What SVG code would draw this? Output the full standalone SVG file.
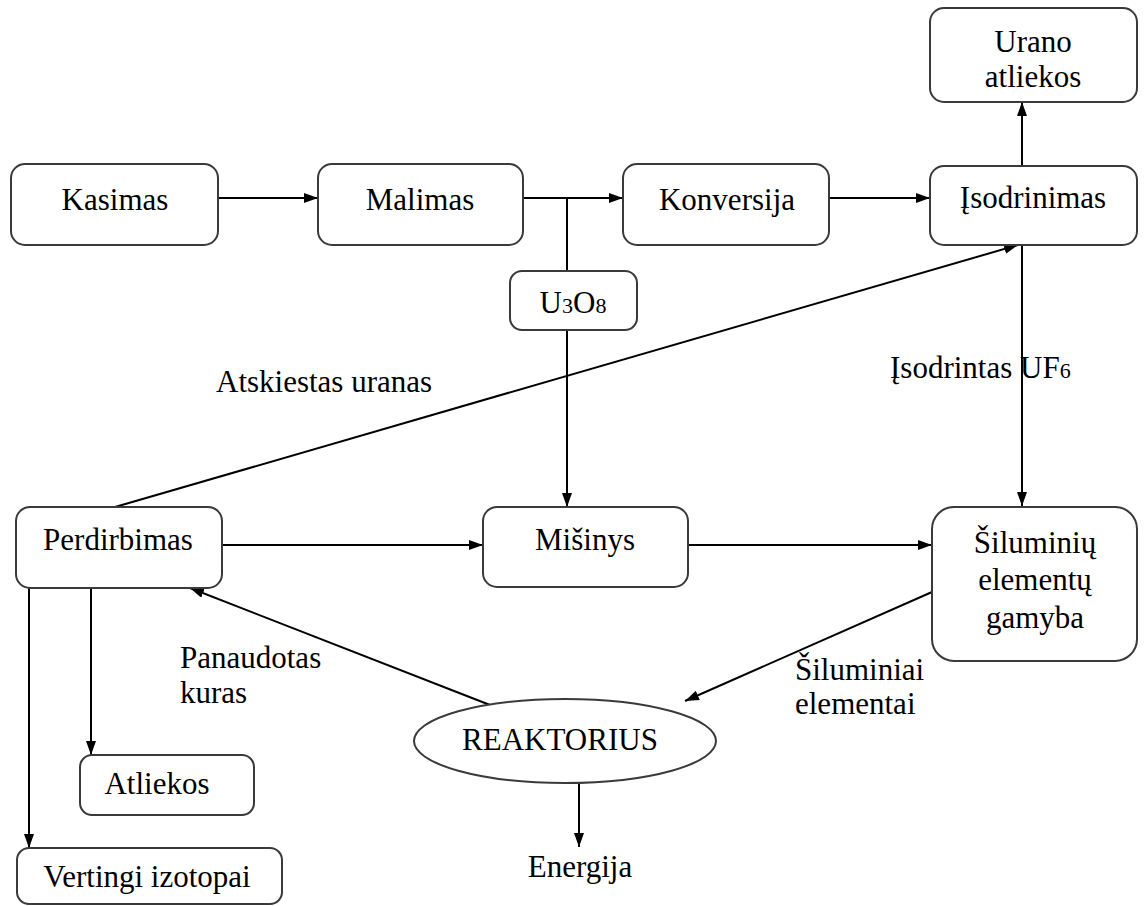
<svg xmlns="http://www.w3.org/2000/svg" width="1144" height="906" viewBox="0 0 1144 906">
<defs>
<marker id="ah" viewBox="0 0 14 10" refX="14" refY="5" markerWidth="14" markerHeight="10" markerUnits="userSpaceOnUse" orient="auto">
<path d="M0,0 L14,5 L0,10 Z" fill="#000"/>
</marker>
</defs>
<style>
.box{fill:#fff;stroke:#3a3a3a;stroke-width:2}
.t{font-family:"Liberation Serif","Times New Roman",serif;font-size:31px;fill:#000;text-anchor:middle}
.l{font-family:"Liberation Serif","Times New Roman",serif;font-size:31px;fill:#000}
.c{fill:none;stroke:#000;stroke-width:2}
.a{fill:none;stroke:#000;stroke-width:2;marker-end:url(#ah)}
</style>
<rect width="1144" height="906" fill="#fff"/>
<g id="connectors">
<line class="a" x1="218" y1="198" x2="318" y2="198"/>
<line class="a" x1="523" y1="198" x2="623" y2="198"/>
<line class="c" x1="567" y1="198" x2="567" y2="271"/>
<line class="a" x1="567" y1="330" x2="567" y2="507"/>
<line class="a" x1="829" y1="198" x2="930" y2="198"/>
<line class="a" x1="1022" y1="166" x2="1022" y2="102"/>
<line class="a" x1="1022" y1="245" x2="1022" y2="506"/>
<line class="a" x1="115" y1="507" x2="1018" y2="245"/>
<line class="a" x1="222" y1="545" x2="483" y2="545"/>
<line class="a" x1="688" y1="545" x2="932" y2="545"/>
<line class="a" x1="932" y1="592" x2="685" y2="701"/>
<line class="a" x1="490" y1="705" x2="190" y2="588"/>
<line class="a" x1="579" y1="784" x2="579" y2="847"/>
<line class="a" x1="91" y1="588" x2="91" y2="755"/>
<line class="a" x1="29" y1="588" x2="29" y2="848"/>
</g>
<g id="kasimas"><rect class="box" x="11" y="164" width="207" height="81" rx="14"/><text class="t" x="115" y="210">Kasimas</text></g>
<g id="malimas"><rect class="box" x="318" y="164" width="205" height="81" rx="14"/><text class="t" x="420" y="210">Malimas</text></g>
<g id="konversija"><rect class="box" x="623" y="164" width="206" height="81" rx="14"/><text class="t" x="727" y="210">Konversija</text></g>
<g id="isodrinimas"><rect class="box" x="930" y="166" width="207" height="79" rx="14"/><text class="t" x="1033" y="208">Įsodrinimas</text></g>
<g id="urano-atliekos"><rect class="box" x="930" y="8" width="207" height="94" rx="14"/><text class="t" x="1033" y="52">Urano</text><text class="t" x="1033" y="87">atliekos</text></g>
<g id="u3o8"><rect class="box" x="510" y="271" width="127" height="59" rx="12"/><text class="t" x="573" y="313">U<tspan font-size="22">3</tspan>O<tspan font-size="22">8</tspan></text></g>
<g id="perdirbimas"><rect class="box" x="16" y="507" width="206" height="81" rx="14"/><text class="t" x="118" y="550">Perdirbimas</text></g>
<g id="misinys"><rect class="box" x="483" y="507" width="205" height="80" rx="14"/><text class="t" x="585" y="550">Mišinys</text></g>
<g id="siluminiu"><rect class="box" x="932" y="507" width="205" height="154" rx="22"/><text class="t" x="1035" y="553">Šiluminių</text><text class="t" x="1035" y="590">elementų</text><text class="t" x="1035" y="628">gamyba</text></g>
<g id="reaktorius"><ellipse class="box" cx="565" cy="741" rx="151" ry="42"/><text class="t" x="560" y="750">REAKTORIUS</text></g>
<g id="atliekos"><rect class="box" x="80" y="755" width="174" height="60" rx="12"/><text class="t" x="157" y="794">Atliekos</text></g>
<g id="vertingi"><rect class="box" x="17" y="848" width="265" height="56" rx="12"/><text class="t" x="147" y="887">Vertingi izotopai</text></g>
<g id="energija"><text class="t" x="580" y="877">Energija</text></g>
<g id="labels">
<text class="l" x="216" y="392">Atskiestas uranas</text>
<text class="l" x="890" y="378">Įsodrintas UF<tspan font-size="22">6</tspan></text>
<text class="l" x="180" y="668">Panaudotas</text>
<text class="l" x="180" y="703">kuras</text>
<text class="l" x="795" y="680">Šiluminiai</text>
<text class="l" x="795" y="714">elementai</text>
</g>
</svg>
